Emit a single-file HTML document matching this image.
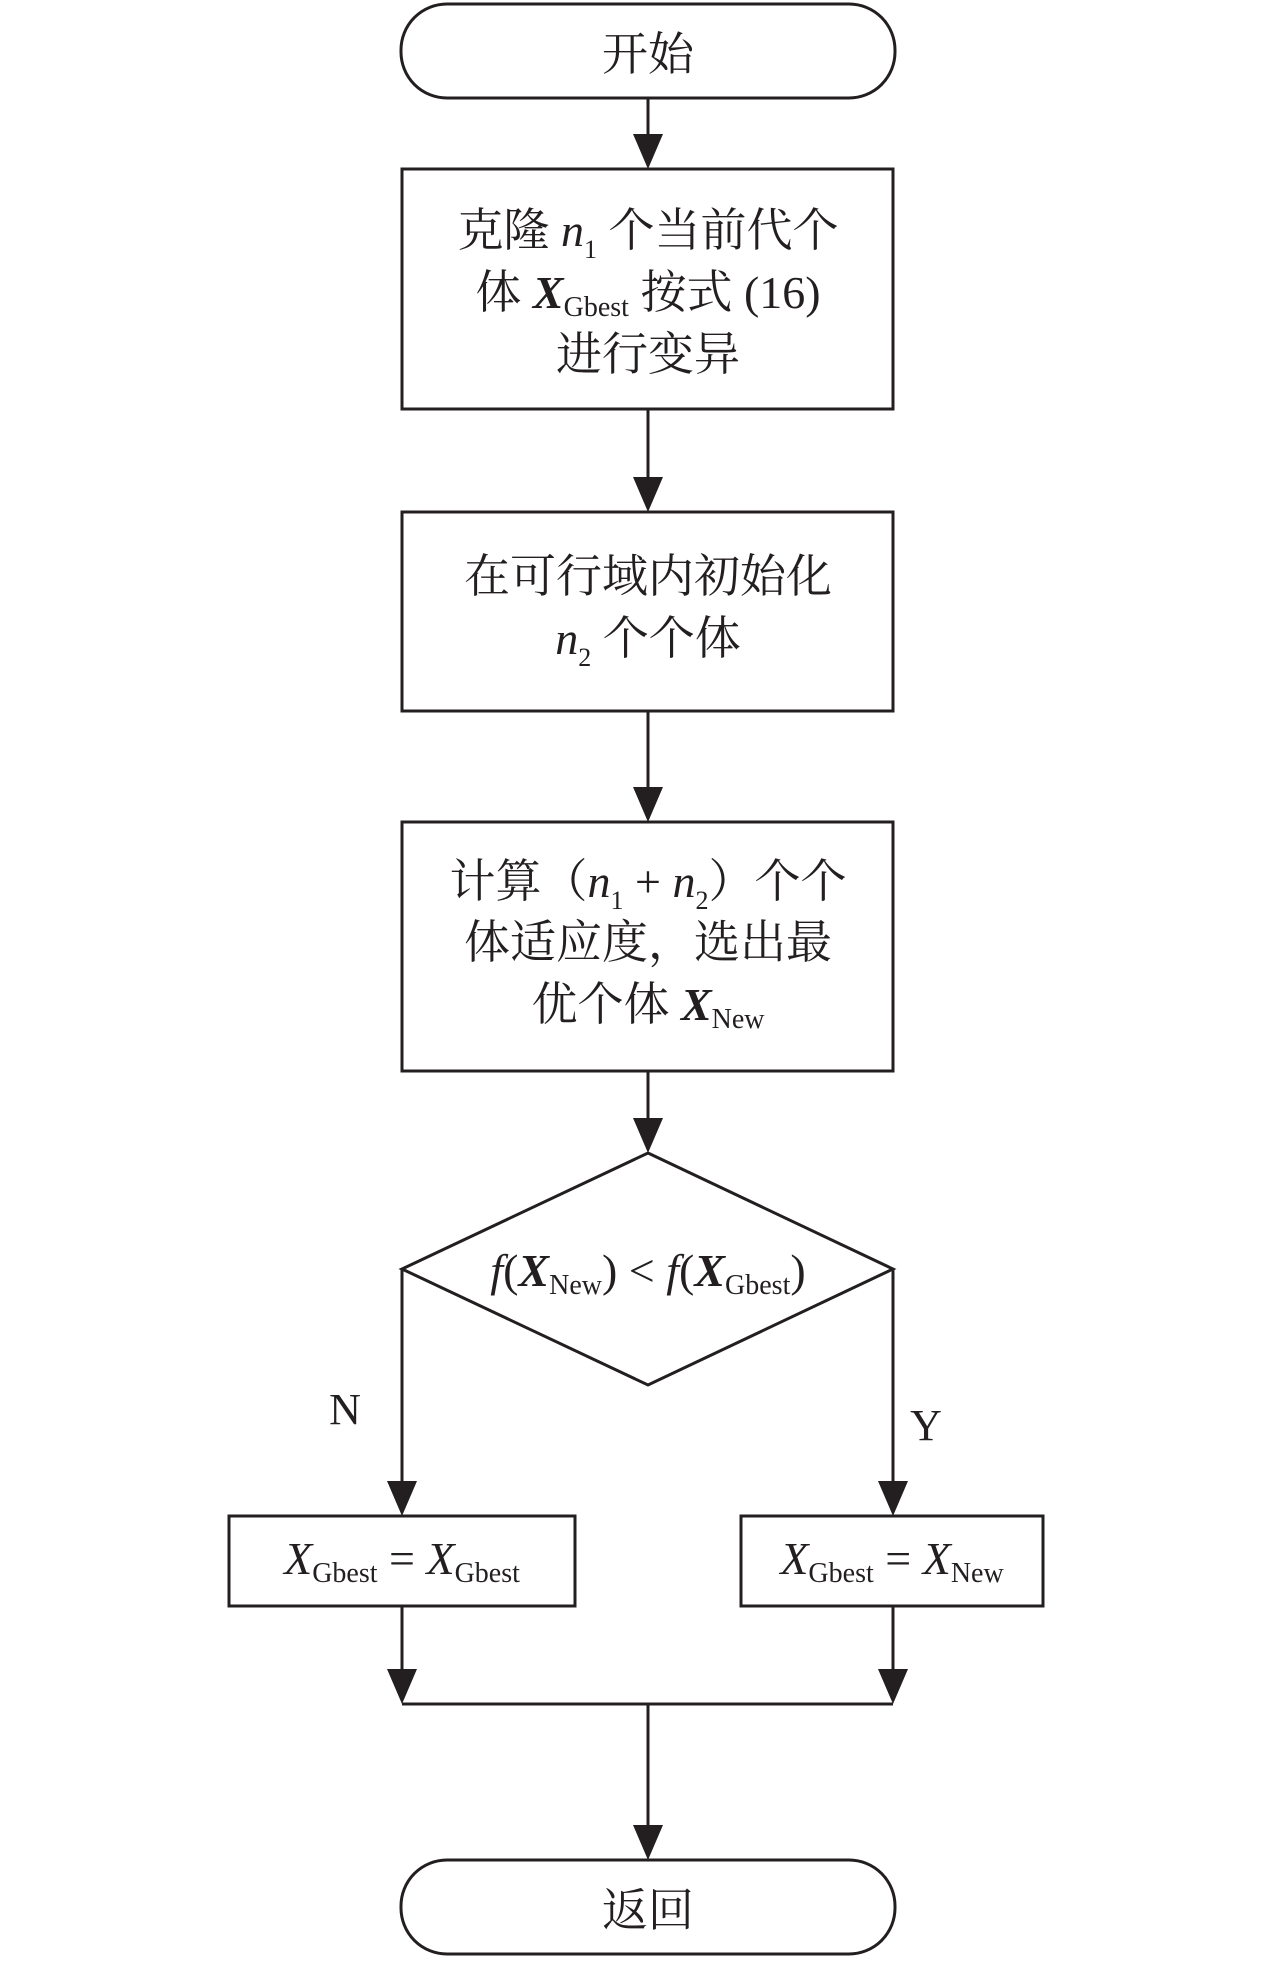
<!DOCTYPE html>
<html><head><meta charset="utf-8"><style>
html,body{margin:0;padding:0;background:#fff;}
svg{display:block;}
text{font-family:"Liberation Serif","Noto Serif CJK SC",serif;fill:#231f20;}
.i{font-style:italic;}
.bi{font-style:italic;font-weight:bold;}
</style></head><body>
<svg width="1280" height="1969" viewBox="0 0 1280 1969" xmlns="http://www.w3.org/2000/svg">
<g fill="none" stroke="#231f20" stroke-width="3">
<rect x="401" y="4" width="494" height="94" rx="46"/>
<rect x="402" y="169" width="491" height="240"/>
<rect x="402" y="512" width="491" height="199"/>
<rect x="402" y="822" width="491" height="249"/>
<polygon points="648,1153 893,1269 648,1385 402,1269"/>
<rect x="229" y="1516" width="346" height="90"/>
<rect x="741" y="1516" width="302" height="90"/>
<rect x="401" y="1860" width="494" height="94" rx="46"/>
<line x1="648" y1="98" x2="648" y2="140"/>
<line x1="648" y1="409" x2="648" y2="483"/>
<line x1="648" y1="711" x2="648" y2="793"/>
<line x1="648" y1="1071" x2="648" y2="1124"/>
<polyline points="402,1269 402,1487"/>
<polyline points="893,1269 893,1487"/>
<line x1="402" y1="1606" x2="402" y2="1675"/>
<line x1="893" y1="1606" x2="893" y2="1675"/>
<line x1="402" y1="1704" x2="893" y2="1704"/>
<line x1="648" y1="1704" x2="648" y2="1831"/>
</g>
<g fill="#231f20">
<polygon points="633,134 663,134 648,169"/>
<polygon points="633,477 663,477 648,512"/>
<polygon points="633,787 663,787 648,822"/>
<polygon points="633,1118 663,1118 648,1153"/>
<polygon points="387,1481 417,1481 402,1516"/>
<polygon points="878,1481 908,1481 893,1516"/>
<polygon points="387,1669 417,1669 402,1704"/>
<polygon points="878,1669 908,1669 893,1704"/>
<polygon points="633,1825 663,1825 648,1860"/>
</g>
<text x="648" y="70" font-size="46" text-anchor="middle">开始</text>
<text x="648" y="246" font-size="46" text-anchor="middle">克隆 <tspan class="i">n</tspan><tspan font-size="26" dy="12">1</tspan><tspan dy="-12"> 个当前代个</tspan></text>
<text x="648" y="308" font-size="46" text-anchor="middle">体 <tspan class="bi">X</tspan><tspan font-size="28" dy="8">Gbest</tspan><tspan dy="-8"> 按式 (16)</tspan></text>
<text x="648" y="370" font-size="46" text-anchor="middle">进行变异</text>
<text x="648" y="592" font-size="46" text-anchor="middle">在可行域内初始化</text>
<text x="648" y="654" font-size="46" text-anchor="middle"><tspan class="i">n</tspan><tspan font-size="26" dy="12">2</tspan><tspan dy="-12"> 个个体</tspan></text>
<text x="648" y="897" font-size="46" text-anchor="middle">计算（<tspan class="i">n</tspan><tspan font-size="26" dy="12">1</tspan><tspan dy="-12"> + </tspan><tspan class="i">n</tspan><tspan font-size="26" dy="12">2</tspan><tspan dy="-12">）个个</tspan></text>
<text x="648" y="958" font-size="46" text-anchor="middle">体适应度，选出最</text>
<text x="648" y="1020" font-size="46" text-anchor="middle">优个体 <tspan class="bi">X</tspan><tspan font-size="28" dy="8">New</tspan></text>
<text x="648" y="1286" font-size="46" text-anchor="middle"><tspan class="i">f</tspan>(<tspan class="bi">X</tspan><tspan font-size="28" dy="8">New</tspan><tspan dy="-8">) &lt; </tspan><tspan class="i">f</tspan>(<tspan class="bi">X</tspan><tspan font-size="28" dy="8">Gbest</tspan><tspan dy="-8">)</tspan></text>
<text x="345" y="1424" font-size="44" text-anchor="middle">N</text>
<text x="926" y="1440" font-size="44" text-anchor="middle">Y</text>
<text x="402" y="1574" font-size="46" text-anchor="middle"><tspan class="i">X</tspan><tspan font-size="28" dy="8">Gbest</tspan><tspan dy="-8"> = </tspan><tspan class="i">X</tspan><tspan font-size="28" dy="8">Gbest</tspan></text>
<text x="892" y="1574" font-size="46" text-anchor="middle"><tspan class="i">X</tspan><tspan font-size="28" dy="8">Gbest</tspan><tspan dy="-8"> = </tspan><tspan class="i">X</tspan><tspan font-size="28" dy="8">New</tspan></text>
<text x="648" y="1926" font-size="46" text-anchor="middle">返回</text>
</svg>
</body></html>
